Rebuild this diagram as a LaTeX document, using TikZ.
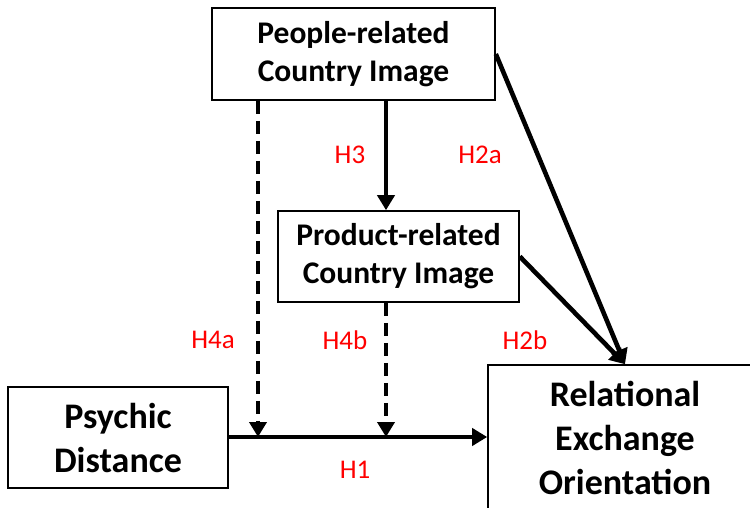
\documentclass[tikz,border=0pt]{standalone}
\usepackage{fontspec}
\setmainfont{Carlito}
\usetikzlibrary{arrows.meta,calc}
\begin{document}
\begin{tikzpicture}[x=1pt,y=-1pt,
  box/.style={draw,line width=1.6pt,align=center,font=\bfseries,inner sep=0pt},
  arr/.style={line width=4.6pt,-{Triangle[length=15pt,width=17pt]}},
  darr/.style={arr,dash pattern=on 13pt off 7pt},
  lab/.style={text=red,font=\fontsize{27}{29}\selectfont}]
\useasboundingbox (0,0) rectangle (750,508);
\clip (0,0) rectangle (750,508);
\fill[white] (0,0) rectangle (750,508);
\node[box,minimum width=283pt,minimum height=92pt,font=\bfseries\fontsize{31.5}{38}\selectfont] (people) at (353.5,54) {People-related\\Country Image};
\node[box,minimum width=241pt,minimum height=91pt,font=\bfseries\fontsize{31.5}{38}\selectfont] (product) at (398.5,256.5) {Product-related\\Country Image};
\node[box,minimum width=220pt,minimum height=101pt,font=\bfseries\fontsize{36}{44}\selectfont] (psychic) at (118,437.5) {Psychic\\Distance};
\node[box,minimum width=274pt,minimum height=145pt,font=\bfseries\fontsize{36}{44}\selectfont] (rel) at (625,437.5) {Relational\\Exchange\\Orientation};
\coordinate (m1) at (258,437);
\coordinate (m2) at (386,437);
\draw[arr] (psychic.east |- m1) -- (rel.west |- m1);
\draw[darr] (people.south -| m1) -- (m1);
\draw[arr] (people.south -| m2) -- (product.north -| m2);
\draw[darr] (product.south -| m2) -- (m2);
\draw[arr] (people.east) -- (rel.north);
\draw[arr] (product.east) -- (rel.north);
\node[lab] (h3) at (350,155) {H3};
\node[lab] (h2a) at (480,155) {H2a};
\node[lab] (h4a) at (213,340) {H4a};
\node[lab] (h4b) at (345,340) {H4b};
\node[lab] (h2b) at (525,340) {H2b};
\node[lab] (h1) at (355,470) {H1};
\end{tikzpicture}
\end{document}
